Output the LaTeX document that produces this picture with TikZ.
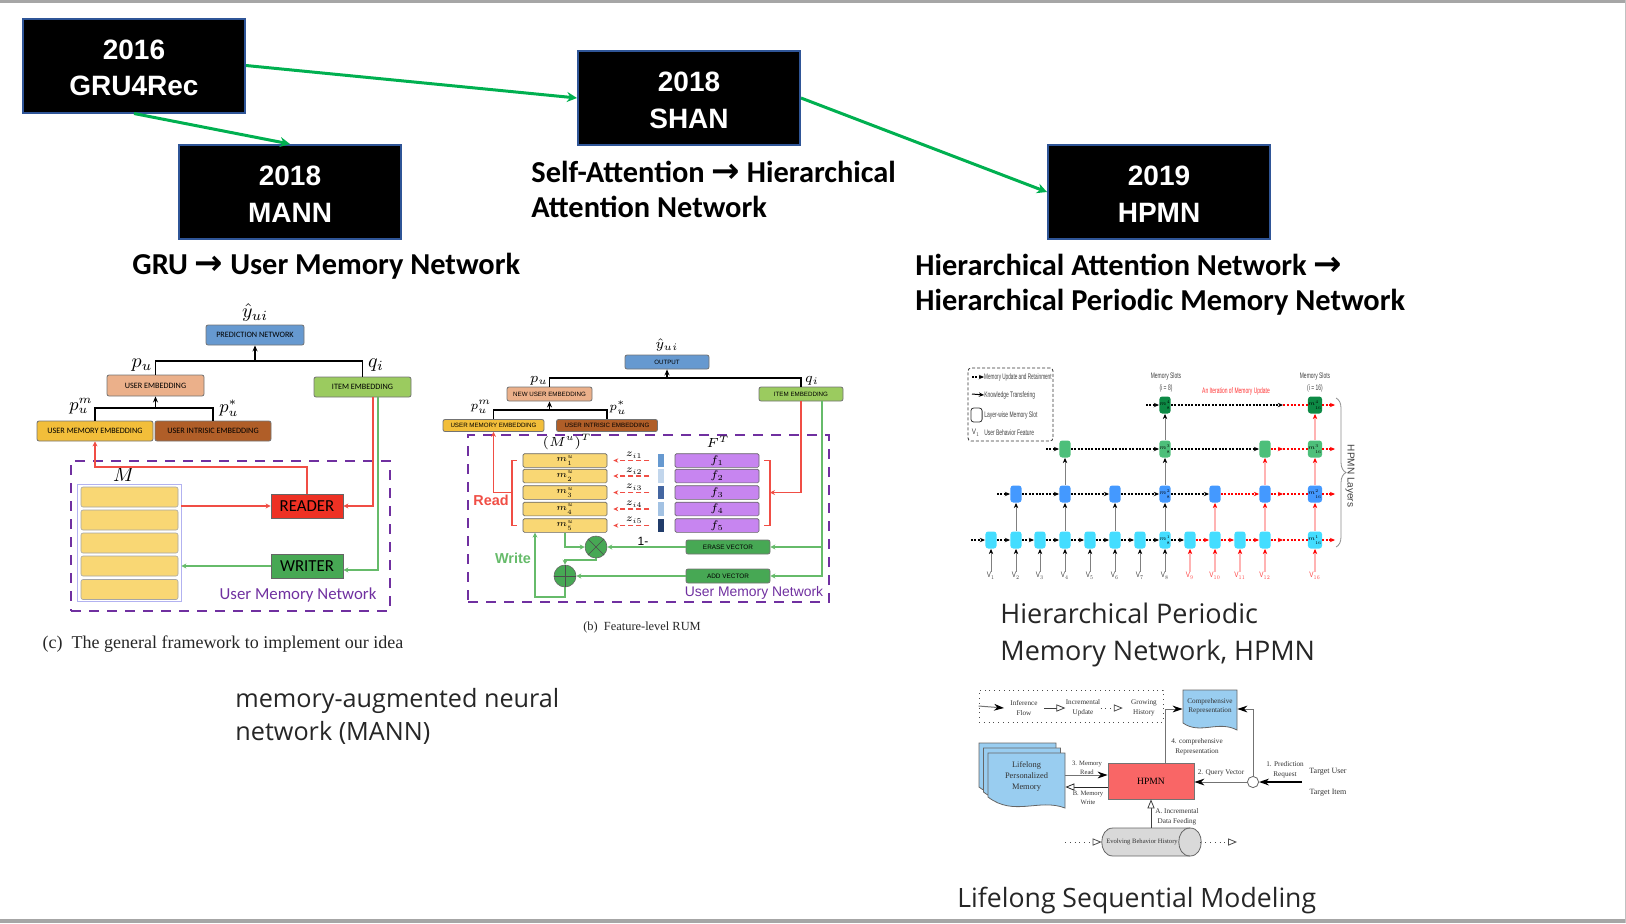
\documentclass[tikz,border=0pt]{standalone}
\usepackage{fix-cm}
\usepackage{fontspec}
\newfontfamily\calibrif{Carlito}
\newfontfamily\arialf{Liberation Sans}
\newfontfamily\timesf{Liberation Serif}
\newfontfamily\dengf{Open Sans}
\newfontfamily\symf{DejaVu Sans}
\usetikzlibrary{arrows.meta,decorations.pathreplacing}

\definecolor{barbg}{HTML}{A6A6A6}
\definecolor{yearedge}{HTML}{2F5597}
\definecolor{trendgreen}{HTML}{00B050}
\definecolor{predblue}{HTML}{6699D0}
\definecolor{useremb}{HTML}{EBB08A}
\definecolor{itememb}{HTML}{9BCB5F}
\definecolor{memyellow}{HTML}{F2BE3A}
\definecolor{intrbrown}{HTML}{B05E28}
\definecolor{rowyellow}{HTML}{F9D774}
\definecolor{rowpurple}{HTML}{C785F0}
\definecolor{netpurple}{HTML}{7030A0}
\definecolor{readred}{HTML}{F04E45}
\definecolor{readerred}{HTML}{EE3124}
\definecolor{writegreen}{HTML}{66BB6A}
\definecolor{writerfill}{HTML}{47A854}
\definecolor{slotcyan}{HTML}{44DDFF}
\definecolor{slotblue}{HTML}{4499FF}
\definecolor{slotgreen}{HTML}{4DBF7A}
\definecolor{slotdark}{HTML}{0D8A45}
\definecolor{pinkline}{HTML}{FFB3B3}
\definecolor{docblue}{HTML}{99CDF0}
\definecolor{hpmnred}{HTML}{F96666}

\newcommand{\notearrow}{{\symf\bfseries\fontsize{17}{17.5}\selectfont →}}
\newcommand{\yearup}{\rule{0pt}{12pt}}

\tikzset{
  yearbox/.style={fill=black, draw=yearedge, line width=1pt, text=white, align=center, inner sep=0pt, minimum width=111pt, minimum height=47pt, font=\arialf\bfseries\fontsize{14}{18.2}\selectfont},
  trend/.style={draw=trendgreen, line width=1.5pt, -{Stealth[length=5pt,width=5pt]}},
  boldnote/.style={anchor=west, align=left, inner sep=0pt, font=\calibrif\bfseries\fontsize{15.2}{17.5}\selectfont},
  lightnote/.style={anchor=west, align=left, inner sep=0pt, text=black!85, font=\dengf\fontsize{12.6}{16.5}\selectfont},
  lightbig/.style={lightnote, font=\dengf\fontsize{13.5}{18.5}\selectfont},
  emb/.style={draw=black!55, line width=.4pt, rounded corners=1pt, inner sep=0pt, font=\calibrif\fontsize{4.1}{5}\selectfont},
  embsmall/.style={emb, font=\arialf\fontsize{3.1}{4}\selectfont},
  mathA/.style={inner sep=0pt, font=\fontsize{10}{11}\selectfont},
  mathB/.style={inner sep=0pt, font=\fontsize{7}{8}\selectfont},
  supA/.style={inner sep=0pt, font=\fontsize{9}{10}\selectfont},
  supB/.style={inner sep=0pt, font=\fontsize{6}{7}\selectfont},
  blackbus/.style={draw=black, line width=.9pt},
  blackup/.style={blackbus, -{Stealth[length=3pt,width=2.5pt]}},
  redl/.style={draw=readred, line width=.7pt, -{Stealth[length=2.5pt,width=2.5pt]}},
  greenl/.style={draw=writegreen, line width=.7pt, -{Stealth[length=2.5pt,width=2.5pt]}},
  netbox/.style={draw=netpurple, dashed, dash pattern=on 5pt off 4pt, line width=.9pt, inner sep=0pt},
  rowa/.style={fill=rowyellow, draw=black!35, line width=.3pt, rounded corners=1pt, inner sep=0pt, minimum width=48.5pt, minimum height=10pt},
  rowb/.style={fill=rowyellow, draw=black!60, line width=.3pt, rounded corners=.7pt, inner sep=0pt, minimum width=42pt, minimum height=6.8pt, font=\fontsize{4.6}{5}\selectfont},
  rowf/.style={rowb, fill=rowpurple},
  barb/.style={inner sep=0pt, minimum width=3.2pt, minimum height=6.8pt},
  ztext/.style={inner sep=0pt, font=\fontsize{5.2}{6}\selectfont},
  reddash/.style={draw=readred, dashed, dash pattern=on 2.5pt off 1.5pt, line width=.6pt, -{Stealth[length=2.5pt,width=2.2pt]}},
  redbrack/.style={draw=readred, line width=.7pt},
  slot/.style={rounded corners=1.4pt, inner sep=0pt, minimum width=5.6pt, minimum height=8.5pt, font=\fontsize{3}{3.4}\selectfont},
  cyans/.style={slot, fill=slotcyan},
  blues/.style={slot, fill=slotblue},
  greens/.style={slot, fill=slotgreen},
  darks/.style={slot, fill=slotdark},
  ctext/.style={inner sep=0pt, text=black!75, font=\arialf\fontsize{4}{6}\selectfont, align=center},
  clabel/.style={ctext, xscale=.62},
  vlab/.style={ctext, xscale=.8},
  vred/.style={vlab, text=red!75},
  memflow/.style={draw=black, dashed, dash pattern=on 1pt off .7pt, line width=.55pt, -{Stealth[length=2.6pt,width=2.2pt]}},
  redflow/.style={memflow, draw=red},
  redmore/.style={draw=red, dashed, dash pattern=on 1pt off .9pt, line width=.7pt},
  knowflow/.style={draw=black!50, line width=.4pt, -{Stealth[length=2.6pt,width=2.2pt,color=black]}},
  pinkflow/.style={draw=pinkline, line width=.6pt, -{Stealth[length=2.6pt,width=2.2pt,color=red]}},
  dtext/.style={inner sep=0pt, align=center, text=black!80, font=\timesf\fontsize{3.6}{5}\selectfont},
  dflow/.style={draw=black!55, line width=.5pt, -{Stealth[length=5pt,width=3.4pt,color=black]}},
  dopen/.style={draw=black!75, line width=.4pt, -{Triangle[open,length=4.5pt,width=3.6pt,fill=white,line width=.4pt]}},
  ddash/.style={dopen, dotted, draw=black!70},
  docs/.style={fill=docblue, draw=black!60, line width=.4pt},
}

\begin{document}
\begin{tikzpicture}[x=0.5pt, y=-0.5pt]
\useasboundingbox (0,0) rectangle (1626,923);
\fill[barbg] (0,0) rectangle (1626,3);
\fill[barbg] (0,919) rectangle (1626,923);
\fill[barbg!70] (1625,0) rectangle (1626,923);

% Timeline boxes
\node[yearbox] (gru) at (134,65.5) {\yearup 2016\\GRU4Rec};
\node[yearbox] (shan) at (689,98) {\yearup 2018\\SHAN};
\node[yearbox] (mann) at (290,192) {\yearup 2018\\MANN};
\node[yearbox] (hpmn) at (1159,192) {\yearup 2019\\HPMN};

\draw[trend] (gru.east) -- (shan.west);
\draw[trend] (gru.south) -- (mann.north);
\draw[trend] (shan.east) -- (hpmn.west);

% Timeline notes
\node[boldnote] (noteshan) at (531,189) {Self-Attention \notearrow{} Hierarchical\\Attention Network};
\node[boldnote] (notemann) at (132,266) {GRU \notearrow{} User Memory Network};
\node[boldnote] (notehpmn) at (915,284.5) {Hierarchical Attention Network \notearrow\\Hierarchical Periodic Memory Network};
\node[lightnote] (lightmann) at (235,716) {memory-augmented neural\\network (MANN)};
\node[lightbig] (lighthpmn) at (1000,635) {Hierarchical Periodic\\Memory Network, HPMN};
\node[lightbig, font=\dengf\fontsize{13.3}{18.5}\selectfont] (lightlife) at (957,900) {Lifelong Sequential Modeling};

% MANN framework
\node[emb, fill=predblue, minimum width=49pt, minimum height=10pt] (predA) at (255,335) {PREDICTION NETWORK};
\node[emb, fill=useremb, minimum width=48.5pt, minimum height=10.5pt] (userA) at (155.5,385.5) {USER EMBEDDING};
\node[emb, fill=itememb, minimum width=48.5pt, minimum height=10pt] (itemA) at (362.5,387) {ITEM EMBEDDING};
\node[emb, fill=memyellow, minimum width=58pt, minimum height=10pt] (memA) at (95,431) {USER MEMORY EMBEDDING};
\node[emb, fill=intrbrown, minimum width=58pt, minimum height=10pt] (intrA) at (213,431) {USER INTRISIC EMBEDDING};
\node[mathA] (yhatA) at (255,312) {$\hat{y}_{ui}$};
\node[mathA] (puA) at (142,365) {$p_u$};
\node[mathA] (qiA) at (376,365) {$q_i$};
\node[supA] (pmA) at (81,406) {$p_u^m$};
\node[supA] (psA) at (229,408) {$p_u^*$};
\coordinate (busA) at (255,361);
\coordinate (bus2A) at (155.5,408);
\draw[blackbus] (userA.north) |- (busA) -| (itemA.north);
\draw[blackup] (busA) -- (predA.south);
\draw[blackbus] (memA.north) |- (bus2A) -| (intrA.north);
\draw[blackup] (bus2A) -- (userA.south);

\node[netbox, minimum width=159.5pt, minimum height=75pt] (netA) at (230.5,536) {};
\node[mathA] (labelmA) at (124,475) {$M$};
\node[draw=black!20!blue!30, fill=white, line width=.4pt, inner sep=0pt, minimum width=52pt, minimum height=58.5pt] (memboxA) at (129,542.5) {};
\node[rowa] (rowa1) at (129.5,497) {};
\node[rowa] (rowa2) at (129.5,520) {};
\node[rowa] (rowa3) at (129.5,543) {};
\node[rowa] (rowa4) at (129.5,566) {};
\node[rowa] (rowa5) at (129.5,589.5) {};
\node[fill=readerred, draw=black!60, line width=.4pt, inner sep=0pt, minimum width=36pt, minimum height=12pt, font=\calibrif\fontsize{8.4}{10}\selectfont] (readerA) at (307,506) {READER};
\node[fill=writerfill, draw=black!60, line width=.4pt, inner sep=0pt, minimum width=36pt, minimum height=12pt, font=\calibrif\fontsize{8.4}{10}\selectfont] (writerA) at (307,566) {WRITER};
\coordinate (turnA) at (95,467);
\draw[redl] (readerA.north) |- (turnA) -- (memA.south);
\draw[redl] (memboxA.east |- readerA.west) -- (readerA.west);
\draw[redl] ([xshift=5.25pt]itemA.south) |- (readerA.east);
\draw[greenl] ([xshift=7.75pt]itemA.south) |- ([yshift=-2pt]writerA.east);
\draw[greenl] (writerA.west) -- (writerA.west -| memboxA.east);
\node[inner sep=0pt, text=netpurple, font=\calibrif\fontsize{8.4}{10}\selectfont] (umnA) at (298,595) {User Memory Network};
\node[inner sep=0pt, text=black!85, font=\timesf\fontsize{9}{10}\selectfont] (capA) at (223,644) {(c)~ The general framework to implement our idea};

% Feature-level RUM
\node[embsmall, fill=predblue, minimum width=42pt, minimum height=7pt] (outB) at (667,362) {OUTPUT};
\node[embsmall, fill=useremb, minimum width=42.5pt, minimum height=7pt] (userB) at (549.5,394) {NEW USER EMBEDDING};
\node[embsmall, fill=itememb, minimum width=42pt, minimum height=7pt] (itemB) at (801,394) {ITEM EMBEDDING};
\node[embsmall, fill=memyellow, minimum width=50.5pt, minimum height=6pt] (memB) at (493.5,425.5) {USER MEMORY EMBEDDING};
\node[embsmall, fill=intrbrown, minimum width=50.5pt, minimum height=6pt] (intrB) at (607,425.5) {USER INTRISIC EMBEDDING};
\node[mathB] (yhatB) at (667,345) {$\hat{y}_{ui}$};
\node[mathB] (puB) at (539,381) {$p_u$};
\node[mathB] (qiB) at (812,381) {$q_i$};
\node[supB] (pmB) at (481,407) {$p_u^m$};
\node[supB] (psB) at (618,408) {$p_u^*$};
\coordinate (busB) at (667,378);
\coordinate (bus2B) at (549.5,410);
\draw[blackbus, line width=.7pt] (userB.north) |- (busB) -| (itemB.north);
\draw[blackup, line width=.7pt] (busB) -- (outB.south);
\draw[blackbus, line width=.7pt] (memB.north) |- (bus2B) -| (intrB.north);
\draw[blackup, line width=.7pt] (bus2B) -- (userB.south);

\node[netbox, minimum width=180.5pt, minimum height=83.5pt] (netB) at (648.5,518.5) {};
\node[supB, font=\fontsize{6.6}{7}\selectfont] (mtopB) at (567,442) {$(M^u)^T$};
\node[supB, font=\fontsize{6.6}{7}\selectfont] (ftopB) at (718,442) {$F^T$};

\node[rowb] (m1B) at (565,460.5) {$m_1^u$};
\node[rowb] (m2B) at (565,476) {$m_2^u$};
\node[rowb] (m3B) at (565,492.5) {$m_3^u$};
\node[rowb] (m4B) at (565,509) {$m_4^u$};
\node[rowb] (m5B) at (565,525.5) {$m_5^u$};

\node[rowf, font=\fontsize{5.5}{6}\selectfont] (f1B) at (717,460.5) {$f_1$};
\node[rowf, font=\fontsize{5.5}{6}\selectfont] (f2B) at (717,476) {$f_2$};
\node[rowf, font=\fontsize{5.5}{6}\selectfont] (f3B) at (717,492.5) {$f_3$};
\node[rowf, font=\fontsize{5.5}{6}\selectfont] (f4B) at (717,509) {$f_4$};
\node[rowf, font=\fontsize{5.5}{6}\selectfont] (f5B) at (717,525.5) {$f_5$};

\node[barb, fill=predblue] (b1B) at (661,460.5) {};
\node[barb, fill=predblue!40] (b2B) at (661,476) {};
\node[barb, fill=yearedge!90] (b3B) at (661,492.5) {};
\node[barb, fill=predblue!60] (b4B) at (661,509) {};
\node[barb, fill=yearedge!70!black] (b5B) at (661,525.5) {};

\node[ztext] (z1B) at (634,455) {$z_{i1}$};
\node[ztext] (z2B) at (634,471) {$z_{i2}$};
\node[ztext] (z3B) at (634,487) {$z_{i3}$};
\node[ztext] (z4B) at (634,504) {$z_{i4}$};
\node[ztext] (z5B) at (634,520) {$z_{i5}$};

\draw[reddash] ([xshift=-4pt]b1B.west) -- ([xshift=3pt]m1B.east);
\draw[reddash] ([xshift=-4pt]b2B.west) -- ([xshift=3pt]m2B.east);
\draw[reddash] ([xshift=-4pt]b3B.west) -- ([xshift=3pt]m3B.east);
\draw[reddash] ([xshift=-4pt]b4B.west) -- ([xshift=3pt]m4B.east);
\draw[reddash] ([xshift=-4pt]b5B.west) -- ([xshift=3pt]m5B.east);

% Read brackets
\coordinate (brL) at (512,492.5);
\coordinate (brR) at (770,492.5);
\draw[redbrack] ([xshift=-3pt]m1B.west) -| (brL) |- ([xshift=-3pt]m5B.west);
\draw[redbrack] ([xshift=2.5pt]f1B.east) -| (brR) |- ([xshift=2.5pt]f5B.east);
\draw[redl] (brL) -| (memB.south);
\draw[redl] (itemB.south) |- (brR);
\node[inner sep=0pt, text=readred, font=\arialf\bfseries\fontsize{7.2}{8}\selectfont] (readB) at (491,500) {Read};
\node[inner sep=0pt, text=writegreen, font=\arialf\bfseries\fontsize{7.2}{8}\selectfont] (writeB) at (513,558) {Write};

% Write path
\node[emb, fill=writerfill, minimum width=42pt, minimum height=7pt, font=\arialf\fontsize{3.2}{4}\selectfont] (eraseB) at (728,547) {ERASE VECTOR};
\node[emb, fill=writerfill, minimum width=42pt, minimum height=7pt, font=\arialf\fontsize{3.2}{4}\selectfont] (addB) at (728,576) {ADD VECTOR};
\node[circle, fill=writerfill, draw=black!60, line width=.3pt, inner sep=0pt, minimum size=11pt] (otB) at (596,547) {};
\node[circle, fill=writerfill, draw=black!60, line width=.3pt, inner sep=0pt, minimum size=11pt] (plB) at (565,576) {};
\draw[black!70, line width=.3pt] (otB.north west) -- (otB.south east);
\draw[black!70, line width=.3pt] (otB.north east) -- (otB.south west);
\draw[black!70, line width=.3pt] (plB.north) -- (plB.south);
\draw[black!70, line width=.3pt] (plB.west) -- (plB.east);
\node[inner sep=0pt, font=\arialf\fontsize{6}{7}\selectfont] (oneB) at (643,541) {1-};
\coordinate (trunkB) at (822,547);
\coordinate (bendB) at (596,560);
\coordinate (loopB) at (535,597);
\draw[greenl] ([xshift=10.5pt]itemB.south) |- (addB.east);
\draw[greenl] (trunkB) -- (eraseB.east);
\draw[greenl] (eraseB.west) -- (otB.east);
\draw[greenl] (addB.west) -- (plB.east);
\draw[greenl] (m5B.south) |- (otB.west);
\draw[greenl] (otB.south) -- (bendB) -| (plB.north);
\draw[greenl] (plB.south) |- (loopB) -- (loopB |- m5B.south);
\node[inner sep=0pt, text=netpurple, font=\arialf\fontsize{6.95}{8}\selectfont] (umnB) at (754,593) {User Memory Network};
\node[inner sep=0pt, text=black!85, font=\timesf\fontsize{6.2}{8}\selectfont] (capB) at (642,628) {(b)~ Feature-level RUM};

% HPMN layers, first row
\node[cyans] (r1c1) at (991,540) {};
\node[cyans] (r1c2) at (1016,540) {};
\node[cyans] (r1c3) at (1040,540) {};
\node[cyans] (r1c4) at (1065,540) {};
\node[cyans] (r1c5) at (1090,540) {};
\node[cyans] (r1c6) at (1115,540) {};
\node[cyans] (r1c7) at (1140,540) {};
\node[cyans] (r1c8) at (1165,540) {$m_8^1$};
\node[cyans] (r1c9) at (1190,540) {};
\node[cyans] (r1c10) at (1215,540) {};
\node[cyans] (r1c11) at (1240,540) {};
\node[cyans] (r1c12) at (1265,540) {};
\node[cyans] (r1c16) at (1315,540) {$m_{16}^1$};

% Second row
\node[blues] (r2c2) at (1016,494) {};
\node[blues] (r2c4) at (1065,494) {};
\node[blues] (r2c6) at (1115,494) {};
\node[blues] (r2c8) at (1165,494) {$m_8^2$};
\node[blues] (r2c10) at (1215,494) {};
\node[blues] (r2c12) at (1265,494) {};
\node[blues] (r2c16) at (1315,494) {$m_{16}^2$};

% Third and fourth row
\node[greens] (r3c4) at (1065,449) {};
\node[greens] (r3c8) at (1165,449) {$m_8^3$};
\node[greens] (r3c12) at (1265,449) {};
\node[greens] (r3c16) at (1315,449) {$m_{16}^3$};
\node[darks] (r4c8) at (1165,405) {$m_8^4$};
\node[darks] (r4c16) at (1315,405) {$m_{16}^4$};

% Behavior features
\node[vlab] (v1) at (991,576) {V$_{1}$};
\node[vlab] (v2) at (1016,576) {V$_{2}$};
\node[vlab] (v3) at (1040,576) {V$_{3}$};
\node[vlab] (v4) at (1065,576) {V$_{4}$};
\node[vlab] (v5) at (1090,576) {V$_{5}$};
\node[vlab] (v6) at (1115,576) {V$_{6}$};
\node[vlab] (v7) at (1140,576) {V$_{7}$};
\node[vlab] (v8) at (1165,576) {V$_{8}$};
\node[vred] (v9) at (1190,576) {V$_{9}$};
\node[vred] (v10) at (1215,576) {V$_{10}$};
\node[vred] (v11) at (1240,576) {V$_{11}$};
\node[vred] (v12) at (1265,576) {V$_{12}$};
\node[vred] (v16) at (1315,576) {V$_{16}$};

\draw[knowflow] (v1) -- (r1c1);
\draw[knowflow] (v2) -- (r1c2);
\draw[knowflow] (v3) -- (r1c3);
\draw[knowflow] (v4) -- (r1c4);
\draw[knowflow] (v5) -- (r1c5);
\draw[knowflow] (v6) -- (r1c6);
\draw[knowflow] (v7) -- (r1c7);
\draw[knowflow] (v8) -- (r1c8);
\draw[pinkflow] (v9) -- (r1c9);
\draw[pinkflow] (v10) -- (r1c10);
\draw[pinkflow] (v11) -- (r1c11);
\draw[pinkflow] (v12) -- (r1c12);
\draw[pinkflow] (v16) -- (r1c16);

% Knowledge transfer between rows
\draw[knowflow] (r1c2) -- (r2c2);
\draw[knowflow] (r1c4) -- (r2c4);
\draw[knowflow] (r1c6) -- (r2c6);
\draw[knowflow] (r1c8) -- (r2c8);
\draw[pinkflow] (r1c10) -- (r2c10);
\draw[pinkflow] (r1c12) -- (r2c12);
\draw[pinkflow] (r1c16) -- (r2c16);
\draw[knowflow] (r2c4) -- (r3c4);
\draw[knowflow] (r2c8) -- (r3c8);
\draw[pinkflow] (r2c12) -- (r3c12);
\draw[pinkflow] (r2c16) -- (r3c16);
\draw[knowflow] (r3c8) -- (r4c8);
\draw[pinkflow] (r3c16) -- (r4c16);

% Memory update, row entries and exits
\coordinate (in1) at (971,540);
\coordinate (in2) at (997,494);
\coordinate (in3) at (1046,449);
\coordinate (in4) at (1146,405);
\coordinate (out1) at (1335,540);
\coordinate (out2) at (1335,494);
\coordinate (out3) at (1335,449);
\coordinate (out4) at (1335,405);
\coordinate (gap1) at (1283,540);
\coordinate (gap2) at (1283,494);
\coordinate (gap3) at (1283,449);
\coordinate (gap4) at (1283,405);

\draw[memflow] (in1) -- (r1c1);
\draw[memflow] (r1c1) -- (r1c2);
\draw[memflow] (r1c2) -- (r1c3);
\draw[memflow] (r1c3) -- (r1c4);
\draw[memflow] (r1c4) -- (r1c5);
\draw[memflow] (r1c5) -- (r1c6);
\draw[memflow] (r1c6) -- (r1c7);
\draw[memflow] (r1c7) -- (r1c8);
\draw[memflow] (r1c8) -- (r1c9);
\draw[redflow] (r1c9) -- (r1c10);
\draw[redflow] (r1c10) -- (r1c11);
\draw[redflow] (r1c11) -- (r1c12);
\draw[redflow] (r1c12) -- (gap1);
\draw[redmore] (gap1) -- (r1c16);
\draw[redflow] (r1c16) -- (out1);

\draw[memflow] (in2) -- (r2c2);
\draw[memflow] (r2c2) -- (r2c4);
\draw[memflow] (r2c4) -- (r2c6);
\draw[memflow] (r2c6) -- (r2c8);
\draw[memflow] (r2c8) -- (r2c10);
\draw[redflow] (r2c10) -- (r2c12);
\draw[redflow] (r2c12) -- (gap2);
\draw[redmore] (gap2) -- (r2c16);
\draw[redflow] (r2c16) -- (out2);

\draw[memflow] (in3) -- (r3c4);
\draw[memflow] (r3c4) -- (r3c8);
\draw[memflow] (r3c8) -- (r3c12);
\draw[redflow] (r3c12) -- (gap3);
\draw[redmore] (gap3) -- (r3c16);
\draw[redflow] (r3c16) -- (out3);

\draw[memflow] (in4) -- (r4c8);
\draw[memflow] (r4c8) -- (gap4);
\draw[redmore] (gap4) -- (r4c16);
\draw[redflow] (r4c16) -- (out4);

% Slot headings
\node[clabel] (slots8) at (1166,382) {Memory Slots\\(i = 8)};
\node[clabel] (slots16) at (1315,382) {Memory Slots\\(i = 16)};
\node[clabel, text=red!80] (iterC) at (1236,391) {An Iteration of Memory Update};

% Layers brace
\coordinate (bracetop) at (1336,398);
\coordinate (bracebot) at (1336,547);
\draw[black!45, line width=.4pt, decorate, decoration={brace, amplitude=5pt}] (bracetop) -- (bracebot);
\node[ctext, rotate=-90, font=\arialf\fontsize{5}{6}\selectfont] (layersC) at (1350,476) {HPMN Layers};

% Legend of the layers
\node[draw=black!80, dashed, dash pattern=on 1.5pt off 1pt, rounded corners=1.5pt, line width=.4pt, inner sep=0pt, minimum width=42.5pt, minimum height=36.5pt] (legC) at (1010.5,404.5) {};
\coordinate (lega) at (972,377);
\coordinate (legb) at (972,394);
\node[clabel, anchor=west, xscale=.94] (legtexta) at (984,377) {Memory Update and Retainment};
\node[clabel, anchor=west] (legtextb) at (984,395) {Knowledge Transfering};
\node[clabel, anchor=west] (legtextc) at (984,415) {Layer-wise Memory Slot};
\node[clabel, anchor=west] (legtextd) at (984,433) {User Behavior Feature};
\node[vlab] (legv) at (976,433) {V$_{1}$};
\node[draw=black!80, rounded corners=1.4pt, line width=.4pt, inner sep=0pt, minimum width=5.6pt, minimum height=7pt] (legslot) at (976.5,415) {};
\draw[memflow] (lega) -- (legtexta.west);
\draw[knowflow, draw=black, line width=.5pt] (legb) -- (legtextb.west);

% Lifelong modeling, memory stack
\draw[docs] (979,743) -- (1056,743) -- (1056,798) .. controls (1030,788) and (1005,807) .. (979,787) -- cycle;
\draw[docs] (983.5,748) -- (1060.5,748) -- (1060.5,803) .. controls (1034.5,793) and (1009.5,812) .. (983.5,792) -- cycle;
\draw[docs] (988,753) -- (1065,753) -- (1065,808) .. controls (1039,798) and (1014,817) .. (988,797) -- cycle;
\node[dtext, minimum width=38.5pt, minimum height=22pt, font=\timesf\fontsize{4.2}{5.3}\selectfont] (lifeD) at (1026.5,776.5) {Lifelong\\Personalized\\Memory};

% Comprehensive representation
\draw[docs] (1183,690) -- (1237,690) -- (1237,730) .. controls (1218,720) and (1200,735) .. (1183,723) -- cycle;
\node[dtext, minimum width=27pt, minimum height=20pt, font=\timesf\fontsize{3.6}{4.6}\selectfont] (compD) at (1210,706) {Comprehensive\\Representation};

% HPMN block and circle
\node[fill=hpmnred, draw=black!55, line width=.4pt, inner sep=0pt, minimum width=43pt, minimum height=18pt, font=\timesf\fontsize{4.8}{6}\selectfont] (hpmnD) at (1151,781) {HPMN};
\node[circle, draw=black!60, fill=white, line width=.4pt, inner sep=0pt, minimum size=5.6pt] (reqD) at (1253,782) {};
\node[dtext, font=\timesf\fontsize{4}{5}\selectfont] (userD) at (1328,772) {Target User};
\node[dtext, font=\timesf\fontsize{4}{5}\selectfont] (itemD) at (1328,793) {Target Item};

% Evolving history cylinder
\draw[fill=black!15, draw=black!60, line width=.4pt] (1113,828) -- (1190,828) .. controls (1205,828) and (1205,856) .. (1190,856) -- (1113,856) .. controls (1098,856) and (1098,828) .. (1113,828) -- cycle;
\draw[draw=black!60, line width=.4pt] (1190,828) .. controls (1175,828) and (1175,856) .. (1190,856);
\node[inner sep=0pt, minimum width=49pt, minimum height=14pt] (histD) at (1151,842) {};
\node[dtext, font=\timesf\fontsize{3.3}{4}\selectfont] (histtextD) at (1142,842) {Evolving Behavior History};
\coordinate (histinD) at (1065,842);
\coordinate (histoutD) at (1237,842);
\coordinate (targetD) at (1302,782);
\coordinate (compinD) at (1165,709);
\coordinate (compinE) at (1253,709);

\draw[dflow] ([yshift=3pt]hpmnD.west -| lifeD.east) -- ([yshift=3pt]hpmnD.west);
\draw[dopen, draw=black!85] ([yshift=-3pt]hpmnD.west) -- ([yshift=-3pt]hpmnD.west -| lifeD.east);
\draw[dflow] (hpmnD.north -| compinD) -- (compinD) -- (compinD -| compD.west);
\draw[dflow] (reqD.north) -- (compinE) -- (compinE -| compD.east);
\draw[dflow] (reqD.west) -- (reqD.west -| hpmnD.east);
\draw[dflow, draw=black, line width=.9pt] (targetD) -- (reqD.east);
\draw[dopen] (histD.north) -- (hpmnD.south);
\draw[ddash] (histinD) -- (histD.west);
\draw[ddash] (histD.east) -- (histoutD);

\node[dtext, font=\timesf\fontsize{3.3}{4.6}\selectfont] (labD3) at (1087,768) {3. Memory\\Read};
\node[dtext, font=\timesf\fontsize{3.3}{4.6}\selectfont] (labDB) at (1088,798) {B. Memory\\Write};
\node[dtext] (labD4) at (1197,747) {4. comprehensive\\Representation};
\node[dtext] (labD2) at (1221,773) {2. Query Vector};
\node[dtext] (labD1) at (1285,770) {1. Prediction\\Request};
\node[dtext] (labDA) at (1177,817) {A. Incremental\\Data Feeding};

% Legend of the lifelong part
\node[draw=black!70, dotted, line width=.4pt, inner sep=0pt, minimum width=92pt, minimum height=16pt] (legD) at (1071,706) {};
\node[dtext] (infD) at (1024,708) {Inference\\Flow};
\node[dtext] (incD) at (1083,708) {Incremental\\Update};
\node[dtext] (groD) at (1144,708) {Growing\\History};
\draw[dflow] (legD.west) -- ([xshift=-3pt]infD.west);
\draw[dopen] ([xshift=3pt]infD.east) -- (incD.west);
\draw[ddash] (incD.east) -- ([xshift=-4pt]groD.west);
\end{tikzpicture}
\end{document}
